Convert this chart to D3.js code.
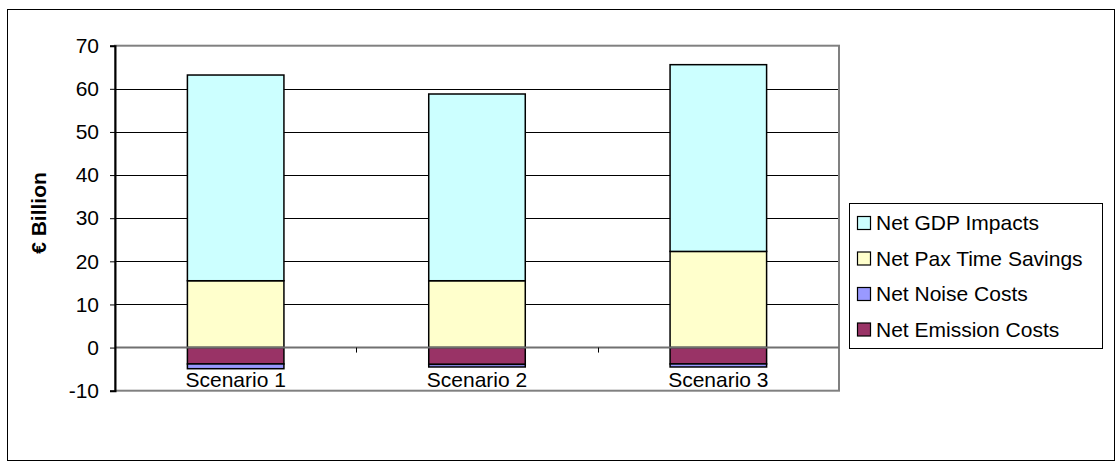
<!DOCTYPE html>
<html><head><meta charset="utf-8">
<script src="https://cdn.jsdelivr.net/npm/d3@7/dist/d3.min.js"></script>
<style>
html,body{margin:0;padding:0;background:#fff;}
svg{display:block;font-family:Arial,"Liberation Sans",sans-serif;}
</style></head>
<body>
<svg id="c" width="1115" height="461"></svg>
<script>
const categories = ["Scenario 1", "Scenario 2", "Scenario 3"];
const netGdpImpacts = [47.7, 43.3, 43.3];
const netPaxTimeSavings = [15.5, 15.5, 22.3];
const netNoiseCosts = [-1.1, -0.6, -0.7];
const netEmissionCosts = [-3.8, -3.9, -3.8];
const yTicks = [-10, 0, 10, 20, 30, 40, 50, 60, 70];
const seriesNames = ["Net GDP Impacts", "Net Pax Time Savings", "Net Noise Costs", "Net Emission Costs"];
const seriesColors = ["#CCFFFF", "#FFFFCC", "#9999FF", "#993366"];

const svg = d3.select("#c");
// outer frame
svg.append("rect").attr("x", 7.5).attr("y", 9.5).attr("width", 1107).attr("height", 451)
  .attr("fill", "none").attr("stroke", "#000").attr("stroke-width", 1);

const L = 115, R = 839, T = 45.7, B = 390.7;
const x = d3.scaleBand().domain(categories).range([L, R]).paddingInner(0.6).paddingOuter(0.3);
const xb = d3.scaleBand().domain(categories).range([L, R]);
const y = d3.scaleLinear().domain([-10, 70]).range([B, T]);

// gridlines
svg.append("g").selectAll("line").data(yTicks.filter(d => d > -10 && d < 70 && d !== 0)).join("line")
  .attr("x1", L).attr("x2", R).attr("y1", d => Math.round(y(d)) + 0.5).attr("y2", d => Math.round(y(d)) + 0.5)
  .attr("stroke", "#000").attr("stroke-width", 1);

// plot border
svg.append("rect").attr("x", L).attr("y", y(70)).attr("width", R - L).attr("height", y(-10) - y(70))
  .attr("fill", "none").attr("stroke", "#808080").attr("stroke-width", 2);

// stacked data
const rows = categories.map((c, i) => ({
  cat: c, gdp: netGdpImpacts[i], pax: netPaxTimeSavings[i], noise: netNoiseCosts[i], emission: netEmissionCosts[i]
}));
const keys = ["pax", "gdp", "emission", "noise"];
const colorOf = { gdp: seriesColors[0], pax: seriesColors[1], noise: seriesColors[2], emission: seriesColors[3] };
const stack = d3.stack().keys(keys).offset(d3.stackOffsetDiverging)(rows);

svg.append("g").selectAll("g").data(stack).join("g")
  .attr("fill", d => colorOf[d.key])
  .selectAll("rect").data(d => d).join("rect")
  .attr("x", d => x(d.data.cat))
  .attr("width", x.bandwidth())
  .attr("y", d => y(Math.max(d[0], d[1])))
  .attr("height", d => Math.abs(y(d[0]) - y(d[1])))
  .attr("stroke", "#000").attr("stroke-width", 1.5);

// zero (category) axis
svg.append("line").attr("x1", L).attr("x2", R).attr("y1", y(0)).attr("y2", y(0))
  .attr("stroke", "#707070").attr("stroke-width", 2);
// category boundary ticks
svg.append("g").selectAll("line").data(categories.slice(1)).join("line")
  .attr("x1", d => Math.round(xb(d)) + 0.5).attr("x2", d => Math.round(xb(d)) + 0.5)
  .attr("y1", y(0)).attr("y2", y(0) + 5).attr("stroke", "#000").attr("stroke-width", 1);
// category labels
svg.append("g").selectAll("text").data(categories).join("text")
  .attr("x", d => xb(d) + xb.bandwidth() / 2).attr("y", 387)
  .attr("text-anchor", "middle").attr("font-size", 21).attr("fill", "#000").text(d => d);

// y axis
const yAxis = d3.axisLeft(y).tickValues(yTicks).tickSize(5).tickPadding(11).tickFormat(d => String(d));
const ya = svg.append("g").attr("transform", `translate(${L},0)`).call(yAxis);
ya.select(".domain").attr("stroke", "#000").attr("stroke-width", 2);
ya.selectAll(".tick line").attr("stroke", "#000");
ya.selectAll(".tick text").attr("font-size", 21).attr("font-family", "Arial, 'Liberation Sans', sans-serif").attr("fill", "#000");

// y title
svg.append("text").attr("transform", "translate(46,213) rotate(-90)")
  .attr("text-anchor", "middle").attr("font-size", 21).attr("font-weight", "bold").text("€ Billion");

// legend
const lg = svg.append("g");
lg.append("rect").attr("x", 849.5).attr("y", 203.5).attr("width", 253).attr("height", 145)
  .attr("fill", "#fff").attr("stroke", "#000").attr("stroke-width", 1);
const rowY = [222, 257.5, 293, 328.5];
seriesNames.forEach((n, i) => {
  lg.append("rect").attr("x", 857.5).attr("y", rowY[i] - 5.5).attr("width", 13).attr("height", 13)
    .attr("fill", seriesColors[i]).attr("stroke", "#000").attr("stroke-width", 1.2);
  lg.append("text").attr("x", 876).attr("y", rowY[i] + 8).attr("font-size", 21).text(n);
});
</script>
</body></html>
